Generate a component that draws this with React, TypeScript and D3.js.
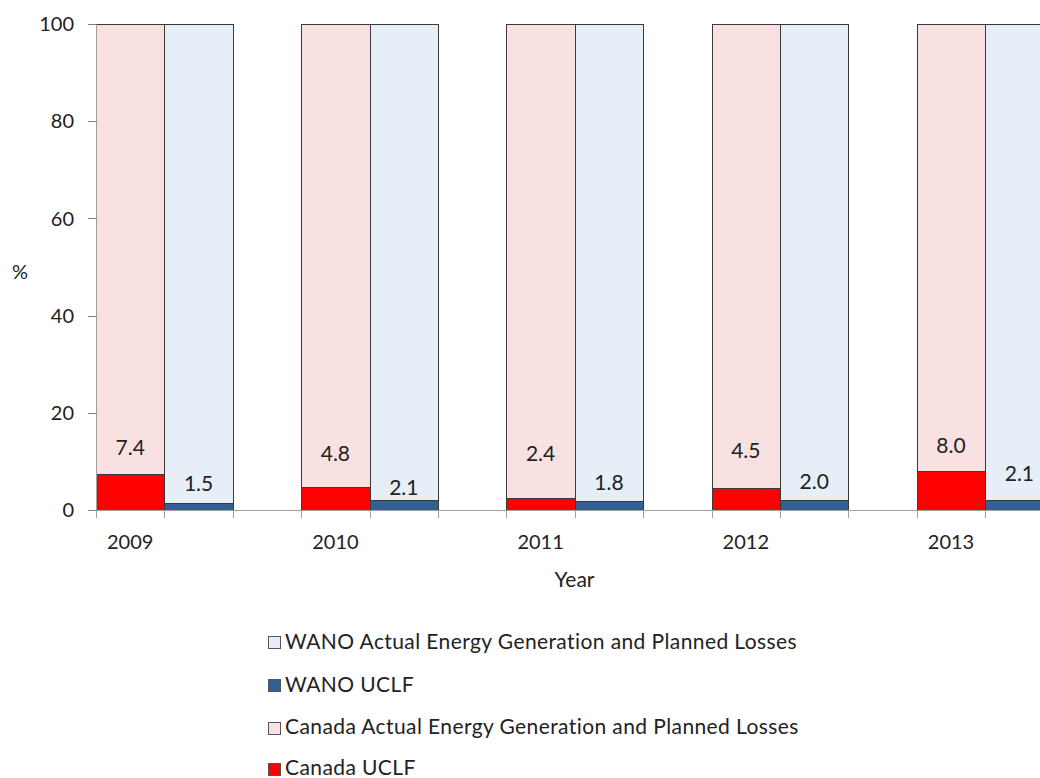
import React from "react";
import * as d3 from "d3";

// ---- data ----
const years = ["2009", "2010", "2011", "2012", "2013"];
const canadaUCLF = [7.4, 4.8, 2.4, 4.5, 8.0];
const wanoUCLF = [1.5, 2.1, 1.8, 2.0, 2.1];
// vertical anchor (in % units) of each value label, as placed in the reference
const canadaLabelAt = [12.9, 11.7, 11.7, 12.3, 13.3];
const wanoLabelAt = [5.4, 4.7, 5.6, 5.8, 7.5];
const yTicks = [0, 20, 40, 60, 80, 100];
const legendItems = [
  { name: "WANO Actual Energy Generation and Planned Losses", color: "#E6EEF7" },
  { name: "WANO UCLF", color: "#335F91" },
  { name: "Canada Actual Energy Generation and Planned Losses", color: "#F9E1E1" },
  { name: "Canada UCLF", color: "#FF0000" },
];

const FONT = "Lato, Calibri, 'Open Sans', sans-serif";
const W = 1040;
const H = 778;
const SLOTS = 15; // each year: Canada bar, WANO bar, empty gap
const SLOT_W = 68.4;
const X0 = 96;

type Row = { slot: number; uclf: number; rest: number; series: string; label: number; labelAt: number };

export default function App() {
  const y = d3.scaleLinear().domain([0, 100]).range([510, 24]);
  const x = d3
    .scaleBand<number>()
    .domain(d3.range(SLOTS))
    .range([X0, X0 + SLOTS * SLOT_W])
    .padding(0);

  const rows: Row[] = [];
  years.forEach((_, i) => {
    rows.push({ slot: i * 3, uclf: canadaUCLF[i], rest: 100 - canadaUCLF[i], series: "canada", label: canadaUCLF[i], labelAt: canadaLabelAt[i] });
    rows.push({ slot: i * 3 + 1, uclf: wanoUCLF[i], rest: 100 - wanoUCLF[i], series: "wano", label: wanoUCLF[i], labelAt: wanoLabelAt[i] });
  });

  const stack = d3.stack<Row>().keys(["uclf", "rest"]);
  const layers = stack(rows);

  const colorFor = (series: string, key: string) => {
    if (series === "canada") return key === "uclf" ? "#FF0000" : "#F9E1E1";
    return key === "uclf" ? "#335F91" : "#E6EEF7";
  };

  const px = (v: number) => Math.round(v) + 0.5;
  const axisColor = "#A0A0A0";
  const legendBaselines = [648.5, 691.5, 734, 775];

  return (
    <svg
      width={W}
      height={H}
      style={{ position: "absolute", left: 0, top: 0, background: "#fff" }}
      fontFamily={FONT}
    >
      {/* bars */}
      {layers.map((layer) =>
        layer.map((d, j) => {
          const row = d.data;
          const x1 = px(x(row.slot)!);
          const x2 = px(x(row.slot)! + x.bandwidth());
          const y1 = px(y(d[1]));
          const y2 = px(y(d[0]));
          return (
            <rect
              key={layer.key + "-" + j}
              x={x1}
              y={y1}
              width={x2 - x1}
              height={Math.max(0, y2 - y1)}
              fill={colorFor(row.series, layer.key)}
              stroke="#3A3A3A"
              strokeWidth={1}
            />
          );
        })
      )}

      {/* y axis */}
      <line x1={px(X0)} x2={px(X0)} y1={px(y(100))} y2={px(y(0))} stroke={axisColor} />
      {yTicks.map((t) => (
        <g key={t}>
          <line x1={88} x2={px(X0)} y1={px(y(t))} y2={px(y(t))} stroke="#808080" />
          <text x={74} y={y(t)} dy="0.36em" textAnchor="end" fontSize={20} fill="#222">
            {t}
          </text>
        </g>
      ))}
      <text x={20} y={272} dy="0.36em" textAnchor="middle" fontSize={20} fill="#222">
        %
      </text>

      {/* x axis */}
      <line x1={px(X0)} x2={W} y1={px(y(0))} y2={px(y(0))} stroke={axisColor} />
      {d3.range(SLOTS + 1).map((k) => (
        <line
          key={k}
          x1={px(X0 + k * SLOT_W)}
          x2={px(X0 + k * SLOT_W)}
          y1={px(y(0))}
          y2={518}
          stroke={axisColor}
        />
      ))}
      {years.map((yr, i) => (
        <text
          key={yr}
          x={x(i * 3)! + x.bandwidth() / 2}
          y={549}
          textAnchor="middle"
          fontSize={20}
          fill="#222"
        >
          {yr}
        </text>
      ))}
      <text x={574.5} y={587} textAnchor="middle" fontSize={21} fill="#222">
        Year
      </text>

      {/* value labels */}
      {rows.map((r, i) => (
        <text
          key={"lbl" + i}
          x={x(r.slot)! + x.bandwidth() / 2}
          y={y(r.labelAt)}
          dy="0.36em"
          textAnchor="middle"
          fontSize={21}
          fill="#222"
        >
          {d3.format(".1f")(r.label)}
        </text>
      ))}

      {/* legend */}
      {legendItems.map((it, i) => {
        const base = legendBaselines[i];
        return (
          <g key={it.name}>
            <rect x={268.5} y={Math.round(base - 12.5) + 0.5} width={12} height={12} fill={it.color} stroke="#555" />
            <text x={285} y={base} fontSize={21} letterSpacing={0.4} fill="#222">
              {it.name}
            </text>
          </g>
        );
      })}
    </svg>
  );
}
